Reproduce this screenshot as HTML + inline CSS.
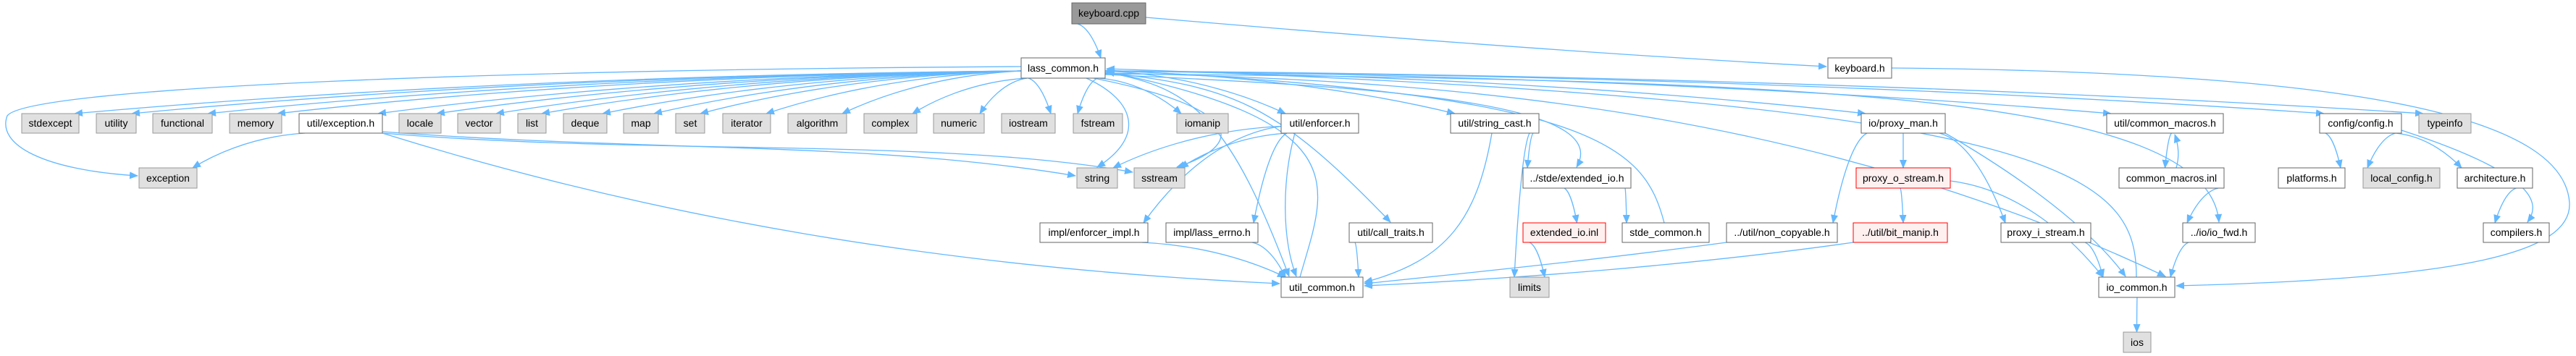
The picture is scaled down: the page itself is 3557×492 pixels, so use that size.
<!DOCTYPE html>
<html><head><meta charset="utf-8">
<style>
html,body{margin:0;padding:0;background:#fff;}
svg{display:block;}
text{font-family:"Liberation Sans",sans-serif;font-size:14px;fill:#000;}
</style></head>
<body>
<svg id="g" width="3557" height="492" viewBox="0 0 3557 492" xmlns="http://www.w3.org/2000/svg">
<defs>
<marker id="ah" markerUnits="userSpaceOnUse" markerWidth="12" markerHeight="10" refX="11" refY="5" orient="auto">
<path d="M0,0 L12,5 L0,10 z" fill="#63b8ff"/>
</marker>
</defs>
<g id="edges" fill="none" stroke="#63b8ff" stroke-width="1.3"></g>
<g id="nodes">
<rect x="1480" y="4" width="102" height="29" fill="#999" stroke="#666"/><text x="1531" y="23" text-anchor="middle">keyboard.cpp</text>
<rect x="1410" y="80" width="116" height="28" fill="#fff" stroke="#666"/><text x="1468" y="99" text-anchor="middle">lass_common.h</text>
<rect x="2524" y="80" width="88" height="28" fill="#fff" stroke="#666"/><text x="2568" y="99" text-anchor="middle">keyboard.h</text>

<rect x="30" y="157" width="79" height="27" fill="#e0e0e0" stroke="#999"/><text x="69.5" y="175" text-anchor="middle">stdexcept</text>
<rect x="133" y="157" width="55" height="27" fill="#e0e0e0" stroke="#999"/><text x="160.5" y="175" text-anchor="middle">utility</text>
<rect x="211" y="157" width="82" height="27" fill="#e0e0e0" stroke="#999"/><text x="252" y="175" text-anchor="middle">functional</text>
<rect x="317" y="157" width="72" height="27" fill="#e0e0e0" stroke="#999"/><text x="353" y="175" text-anchor="middle">memory</text>
<rect x="413" y="157" width="115" height="27" fill="#fff" stroke="#666"/><text x="470.5" y="175" text-anchor="middle">util/exception.h</text>
<rect x="551" y="157" width="58" height="27" fill="#e0e0e0" stroke="#999"/><text x="580" y="175" text-anchor="middle">locale</text>
<rect x="632" y="157" width="59" height="27" fill="#e0e0e0" stroke="#999"/><text x="661.5" y="175" text-anchor="middle">vector</text>
<rect x="715" y="157" width="39" height="27" fill="#e0e0e0" stroke="#999"/><text x="734.5" y="175" text-anchor="middle">list</text>
<rect x="778" y="157" width="60" height="27" fill="#e0e0e0" stroke="#999"/><text x="808" y="175" text-anchor="middle">deque</text>
<rect x="861" y="157" width="48" height="27" fill="#e0e0e0" stroke="#999"/><text x="885" y="175" text-anchor="middle">map</text>
<rect x="933" y="157" width="40" height="27" fill="#e0e0e0" stroke="#999"/><text x="953" y="175" text-anchor="middle">set</text>
<rect x="998" y="157" width="66" height="27" fill="#e0e0e0" stroke="#999"/><text x="1031" y="175" text-anchor="middle">iterator</text>
<rect x="1088" y="157" width="81" height="27" fill="#e0e0e0" stroke="#999"/><text x="1128.5" y="175" text-anchor="middle">algorithm</text>
<rect x="1193" y="157" width="73" height="27" fill="#e0e0e0" stroke="#999"/><text x="1229.5" y="175" text-anchor="middle">complex</text>
<rect x="1289" y="157" width="70" height="27" fill="#e0e0e0" stroke="#999"/><text x="1324" y="175" text-anchor="middle">numeric</text>
<rect x="1383" y="157" width="74" height="27" fill="#e0e0e0" stroke="#999"/><text x="1420" y="175" text-anchor="middle">iostream</text>
<rect x="1482" y="157" width="68" height="27" fill="#e0e0e0" stroke="#999"/><text x="1516" y="175" text-anchor="middle">fstream</text>
<rect x="1625" y="157" width="71" height="27" fill="#e0e0e0" stroke="#999"/><text x="1660.5" y="175" text-anchor="middle">iomanip</text>
<rect x="1769" y="157" width="107" height="27" fill="#fff" stroke="#666"/><text x="1822.5" y="175" text-anchor="middle">util/enforcer.h</text>
<rect x="2003" y="157" width="122" height="27" fill="#fff" stroke="#666"/><text x="2064" y="175" text-anchor="middle">util/string_cast.h</text>
<rect x="2570" y="157" width="116" height="27" fill="#fff" stroke="#666"/><text x="2628" y="175" text-anchor="middle">io/proxy_man.h</text>
<rect x="2909" y="157" width="161" height="27" fill="#fff" stroke="#666"/><text x="2989.5" y="175" text-anchor="middle">util/common_macros.h</text>
<rect x="3203" y="157" width="113" height="27" fill="#fff" stroke="#666"/><text x="3259.5" y="175" text-anchor="middle">config/config.h</text>
<rect x="3340" y="157" width="72" height="27" fill="#e0e0e0" stroke="#999"/><text x="3376" y="175" text-anchor="middle">typeinfo</text>

<rect x="192" y="232" width="80" height="28" fill="#e0e0e0" stroke="#999"/><text x="232" y="251" text-anchor="middle">exception</text>
<rect x="1487" y="232" width="56" height="28" fill="#e0e0e0" stroke="#999"/><text x="1515" y="251" text-anchor="middle">string</text>
<rect x="1566" y="232" width="70" height="28" fill="#e0e0e0" stroke="#999"/><text x="1601" y="251" text-anchor="middle">sstream</text>
<rect x="2103" y="232" width="149" height="28" fill="#fff" stroke="#666"/><text x="2177.5" y="251" text-anchor="middle">../stde/extended_io.h</text>
<rect x="2563" y="232" width="130" height="28" fill="#fff0f0" stroke="#ff0000"/><text x="2628" y="251" text-anchor="middle">proxy_o_stream.h</text>
<rect x="2926" y="232" width="145" height="28" fill="#fff" stroke="#666"/><text x="2998.5" y="251" text-anchor="middle">common_macros.inl</text>
<rect x="3146" y="232" width="92" height="28" fill="#fff" stroke="#666"/><text x="3192" y="251" text-anchor="middle">platforms.h</text>
<rect x="3263" y="232" width="106" height="28" fill="#e0e0e0" stroke="#999"/><text x="3316" y="251" text-anchor="middle">local_config.h</text>
<rect x="3393" y="232" width="104" height="28" fill="#fff" stroke="#666"/><text x="3445" y="251" text-anchor="middle">architecture.h</text>

<rect x="1436" y="308" width="149" height="27" fill="#fff" stroke="#666"/><text x="1510.5" y="326" text-anchor="middle">impl/enforcer_impl.h</text>
<rect x="1610" y="308" width="127" height="27" fill="#fff" stroke="#666"/><text x="1673.5" y="326" text-anchor="middle">impl/lass_errno.h</text>
<rect x="1863" y="308" width="115" height="27" fill="#fff" stroke="#666"/><text x="1920.5" y="326" text-anchor="middle">util/call_traits.h</text>
<rect x="2103" y="308" width="114" height="27" fill="#fff0f0" stroke="#ff0000"/><text x="2160" y="326" text-anchor="middle">extended_io.inl</text>
<rect x="2240" y="308" width="120" height="27" fill="#fff" stroke="#666"/><text x="2300" y="326" text-anchor="middle">stde_common.h</text>
<rect x="2384" y="308" width="153" height="27" fill="#fff" stroke="#666"/><text x="2460.5" y="326" text-anchor="middle">../util/non_copyable.h</text>
<rect x="2559" y="308" width="130" height="27" fill="#fff0f0" stroke="#ff0000"/><text x="2624" y="326" text-anchor="middle">../util/bit_manip.h</text>
<rect x="2763" y="308" width="124" height="27" fill="#fff" stroke="#666"/><text x="2825" y="326" text-anchor="middle">proxy_i_stream.h</text>
<rect x="3014" y="308" width="100" height="27" fill="#fff" stroke="#666"/><text x="3064" y="326" text-anchor="middle">../io/io_fwd.h</text>
<rect x="3429" y="308" width="91" height="27" fill="#fff" stroke="#666"/><text x="3474.5" y="326" text-anchor="middle">compilers.h</text>

<rect x="1769" y="383" width="113" height="28" fill="#fff" stroke="#666"/><text x="1825.5" y="402" text-anchor="middle">util_common.h</text>
<rect x="2085" y="383" width="54" height="28" fill="#e0e0e0" stroke="#999"/><text x="2112" y="402" text-anchor="middle">limits</text>
<rect x="2898" y="383" width="105" height="28" fill="#fff" stroke="#666"/><text x="2950.5" y="402" text-anchor="middle">io_common.h</text>

<rect x="2932" y="459" width="38" height="28" fill="#e0e0e0" stroke="#999"/><text x="2951" y="478" text-anchor="middle">ios</text>
</g>
</svg>
<script>
var N={
kc:[1480,1582,4,33],lc:[1410,1526,80,108],kh:[2524,2612,80,108],
stdexcept:[30,109,157,184],utility:[133,188,157,184],functional:[211,293,157,184],memory:[317,389,157,184],
exh:[413,528,157,184],locale:[551,609,157,184],vector:[632,691,157,184],list:[715,754,157,184],deque:[778,838,157,184],
map:[861,909,157,184],set:[933,973,157,184],iterator:[998,1064,157,184],algorithm:[1088,1169,157,184],complex:[1193,1266,157,184],
numeric:[1289,1359,157,184],iostream:[1383,1457,157,184],fstream:[1482,1550,157,184],iomanip:[1625,1696,157,184],
enf:[1769,1876,157,184],sc:[2003,2125,157,184],pm:[2570,2686,157,184],cmh:[2909,3070,157,184],cfg:[3203,3316,157,184],typeinfo:[3340,3412,157,184],
exception:[192,272,232,260],string:[1487,1543,232,260],sstream:[1566,1636,232,260],eio:[2103,2252,232,260],pos:[2563,2693,232,260],
cmi:[2926,3071,232,260],plat:[3146,3238,232,260],lcfg:[3263,3369,232,260],arch:[3393,3497,232,260],
ei:[1436,1585,308,335],le:[1610,1737,308,335],ct:[1863,1978,308,335],eioi:[2103,2217,308,335],stc:[2240,2360,308,335],
nc:[2384,2537,308,335],bm:[2559,2689,308,335],pis:[2763,2887,308,335],iof:[3014,3114,308,335],comp:[3429,3520,308,335],
uc:[1769,1882,383,411],limits:[2085,2139,383,411],ioc:[2898,3003,383,411],ios:[2932,2970,459,487]};
var G=document.getElementById('edges');
function P(d){var p=document.createElementNS('http://www.w3.org/2000/svg','path');p.setAttribute('d',d);p.setAttribute('marker-end','url(#ah)');G.appendChild(p);}
function cl(v,a,b){return Math.max(a,Math.min(b,v));}
function E(a,b){var A=N[a],B=N[b];var acx=(A[0]+A[1])/2,bcx=(B[0]+B[1])/2;var sx,sy;
 if(bcx<A[0]-250){sx=A[0];sy=(A[2]+A[3])/2+4;}else if(bcx>A[1]+250){sx=A[1];sy=(A[2]+A[3])/2+4;}else{sx=cl(bcx,A[0]+8,A[1]-8);sy=A[3];}
 var ex=cl(acx,B[0]+6,B[1]-6),ey=B[2];
 var c1x=sx+(ex-sx)*0.5,c1y=sy+(ey-sy)*0.1,c2x=ex+(sx-ex)*0.15,c2y=ey-(ey-sy)*0.3;
 P('M'+sx+','+sy+' C'+c1x+','+c1y+' '+c2x+','+c2y+' '+ex+','+ey);}
E('kc','lc');P('M1582,24 C2000,60 2300,80 2522,92');
['stdexcept','utility','functional','memory','exh','locale','vector','list','deque','map','set','iterator','algorithm','complex','numeric','iostream','fstream','iomanip','enf','sc','pm','cmh','cfg','typeinfo'].forEach(function(t){E('lc',t);});
P('M1410,92 C700,96 40,120 10,160 C-5,200 60,235 190,243');
P('M1500,108 C1570,140 1580,190 1515,231');
P('M1510,108 C1720,150 1720,200 1625,231');
P('M1526,103 C1900,120 2230,140 2177,231');
P('M1526,100 C1700,120 1760,140 1920,307');
P('M1526,101 C2000,110 2500,150 2990,382');
P('M1526,102 C2500,110 3050,130 3064,307');
P('M1526,100 C1650,120 1700,170 1780,382');
P('M1795,383 C1830,260 1880,170 1528,99');
P('M2298,308 C2270,200 2200,130 1528,97');
P('M2950,383 C2950,240 2850,140 1528,95');
P('M2612,94 C3300,100 3540,170 3548,280 C3552,350 3400,385 3005,395');
E('exh','exception');
P('M528,182 C900,210 1200,195 1485,243');
P('M528,184 C900,215 1300,190 1564,238');
P('M528,184 C900,300 1300,370 1767,392');
E('enf','string');E('enf','sstream');E('enf','ei');E('enf','le');
P('M1788,184 C1770,250 1770,330 1790,382');
E('ei','uc');E('le','uc');E('ct','uc');
E('sc','eio');E('sc','limits');P('M2060,184 C2040,300 2000,360 1884,390');
E('eio','eioi');E('eio','stc');E('eioi','limits');
P('M2384,335 C2200,360 2000,380 1884,392');P('M2559,335 C2350,365 2100,385 1884,395');
E('pm','nc');E('pm','pos');E('pm','pis');P('M2686,184 C2800,250 2890,320 2935,382');
E('pos','bm');E('pos','ioc');E('pis','ioc');
E('cmh','cmi');P('M3005,232 C3010,215 3008,200 3003,186');
E('cmi','iof');E('iof','ioc');E('ioc','ios');
E('cfg','plat');E('cfg','lcfg');E('cfg','arch');E('arch','comp');
P('M3316,180 C3500,240 3510,280 3490,307');
</script>
</body></html>
